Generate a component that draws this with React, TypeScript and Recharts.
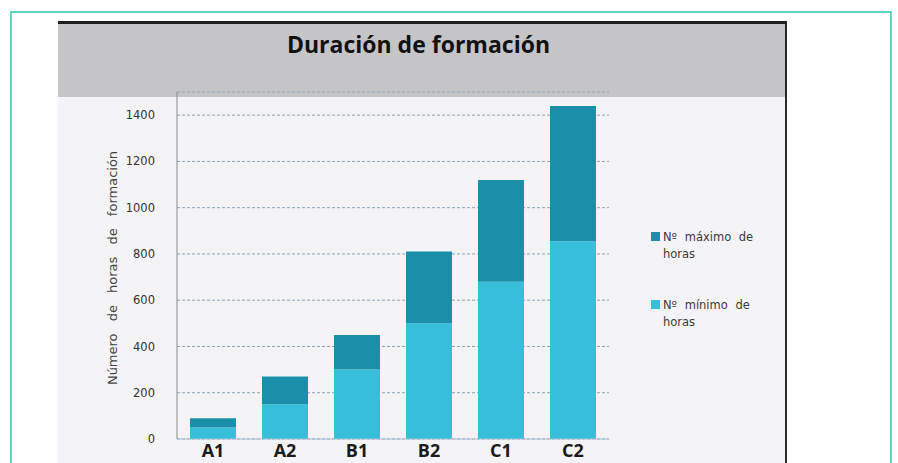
import React from "react";
import { BarChart, Bar, XAxis, YAxis, CartesianGrid, Legend } from "recharts";

const categories = ["A1", "A2", "B1", "B2", "C1", "C2"];
const minHours = [50, 150, 300, 500, 680, 855];
const maxHours = [90, 270, 450, 810, 1120, 1440];
const yTicks = [0, 200, 400, 600, 800, 1000, 1200, 1400];

const data = categories.map((c, i) => ({
  name: c,
  min: minHours[i],
  extra: maxHours[i] - minHours[i],
}));

const DARK = "#1b8fa9";
const LIGHT = "#36bedb";
const legendOrder = ["extra", "min"];

const LegendContent = (props: any) => {
  const payload = props.payload || [];
  const items = legendOrder
    .map((k) => payload.find((p: any) => p.dataKey === k))
    .filter(Boolean);
  return (
    <div style={{ width: 130, fontFamily: "'DejaVu Sans', Verdana, sans-serif", fontSize: 11.5, color: "#3a3a3a" }}>
      {items.map((it: any, i: number) => (
        <div key={i} style={{ display: "flex", alignItems: "flex-start", marginBottom: i === 0 ? 34 : 0 }}>
          <div style={{ width: 9, height: 9, background: it.color, marginTop: 3, marginRight: 3, flex: "none" }} />
          <div style={{ width: 96, lineHeight: "17px", wordSpacing: 4 }}>{it.value}</div>
        </div>
      ))}
    </div>
  );
};

const YLabel = () => (
  <text
    x={117}
    y={268}
    transform="rotate(-90 117 268)"
    textAnchor="middle"
    fontFamily="'DejaVu Sans', Verdana, sans-serif"
    fontSize={13}
    fill="#444"
    wordSpacing={8}
  >
    Número de horas de formación
  </text>
);

export default function App() {
  return (
    <div style={{ position: "absolute", left: 0, top: 0, width: 898, height: 463, background: "#fff", overflow: "hidden" }}>
      <div style={{ position: "absolute", left: 10, top: 11, width: 878, height: 460, borderTop: "2px solid #66d3c7", borderLeft: "2px solid #66d3c7", borderRight: "2px solid #66d3c7" }} />
      <div style={{ position: "absolute", left: 58, top: 21, width: 727, height: 450, background: "#f4f4f6", borderTop: "3px solid #1e1e1e", borderRight: "2px solid #2a2a2a" }} />
      <div style={{ position: "absolute", left: 58, top: 24, width: 727, height: 73, background: "#c5c5c8" }} />
      <div style={{ position: "absolute", left: 50, top: 28, width: 737, textAlign: "center", fontFamily: "'Open Sans', sans-serif", fontWeight: 700, fontSize: 23, color: "#111" }}>
        Duración de formación
      </div>
      <div style={{ position: "absolute", left: 0, top: 0 }}>
        <BarChart width={898} height={463} data={data} margin={{ top: 92, right: 289, bottom: 0, left: 117 }} barSize={46}>
          <CartesianGrid horizontal vertical={false} stroke="#8fa3b3" strokeDasharray="3 2" />
          <XAxis
            dataKey="name"
            height={24}
            axisLine={{ stroke: "#a9c3d6" }}
            tickLine={false}
            tick={{ fontFamily: "'Open Sans', sans-serif", fontWeight: 700, fontSize: 18, fill: "#1a1a1a", dy: -1 }}
            tickMargin={0}
          />
          <YAxis
            width={60}
            domain={[0, 1500]}
            ticks={yTicks}
            axisLine={{ stroke: "#8a8a8a" }}
            tickLine={false}
            tickMargin={16}
            tick={{ fontFamily: "'DejaVu Sans', Verdana, sans-serif", fontSize: 11.5, fill: "#333" }}
            label={{ content: () => <YLabel /> }}
          />
          <Bar dataKey="min" name="Nº mínimo de horas" stackId="a" fill={LIGHT} isAnimationActive={false} />
          <Bar dataKey="extra" name="Nº máximo de horas" stackId="a" fill={DARK} isAnimationActive={false} />
          <Legend
            content={<LegendContent />}
            layout="vertical"
            verticalAlign="top"
            align="left"
            wrapperStyle={{ position: "absolute", left: 651, top: 229, width: 0, height: 0, overflow: "visible" }}
          />
        </BarChart>
      </div>
    </div>
  );
}
